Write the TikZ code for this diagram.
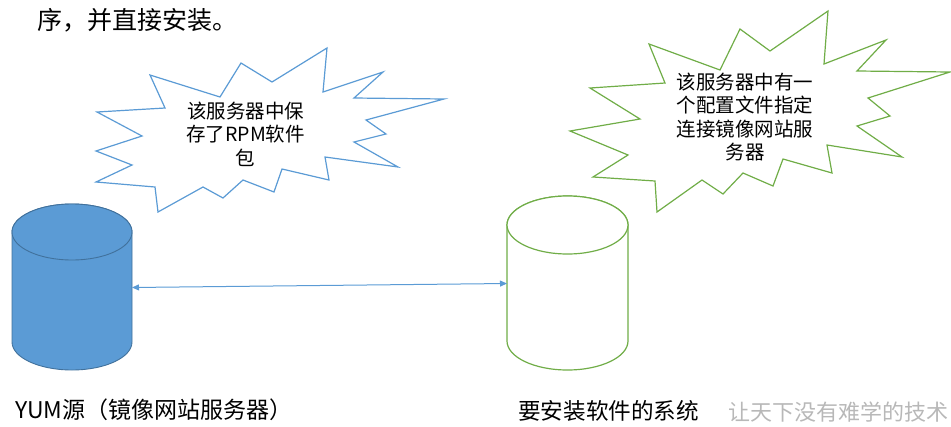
\documentclass[tikz,border=0pt]{standalone}
\usepackage{fontspec}
\newfontfamily\cjk{Noto Sans CJK SC}
\usetikzlibrary{arrows.meta}
\definecolor{cblue}{HTML}{5B9BD5}
\definecolor{cbluedark}{HTML}{41719C}
\definecolor{cgreen}{HTML}{70AD47}
\tikzset{
  burstblue/.style={draw=cblue, line width=1.2pt, fill=white, line join=miter},
  burstgreen/.style={draw=cgreen, line width=1.2pt, fill=white, line join=miter},
  cylblue/.style={draw=cbluedark, line width=0.9pt, fill=cblue},
  cylgreen/.style={draw=cgreen, line width=1.2pt, fill=white},
  bursttext/.style={align=center, inner sep=0pt, font=\cjk\fontsize{19.5}{23.5}\selectfont},
  labeltext/.style={anchor=west, inner sep=0pt, font=\cjk\fontsize{23}{27}\selectfont},
  link/.style={draw=cblue, line width=1pt, {Triangle[length=7pt,width=6pt]}-{Triangle[length=7pt,width=6pt]}}
}
\begin{document}
\begin{tikzpicture}[x=1pt,y=-1pt]
\useasboundingbox (0,0) rectangle (951,426);
% top text
\node[labeltext, font=\cjk\fontsize{25}{29}\selectfont] (title) at (37,20) {序，并直接安装。};
% blue burst
\path[burstblue] (150,75) -- (220,97) -- (241,63) -- (272,82) -- (327,48) -- (323,92) -- (383,72) -- (354,98) -- (444,99) -- (366,120) -- (386,134) -- (354,142) -- (398,167) -- (325,157) -- (329,180) -- (282,169) -- (274,192) -- (243,180) -- (223,198) -- (203,187) -- (158,212) -- (155,187) -- (96,182) -- (132,165) -- (96,151) -- (142,136) -- (97,112) -- (165,108) -- cycle;
\node[bursttext] (t1) at (245.7,134) {该服务器中保\\存了RPM软件\\包};
% green burst
\path[burstgreen] (649,44) -- (720,70) -- (740,29) -- (770,51) -- (828,11) -- (824,64) -- (886,40) -- (857,71) -- (950,72) -- (868,98) -- (890,116) -- (857,126) -- (902,157) -- (827,145) -- (832,173) -- (783,159) -- (773,186) -- (743,173) -- (723,194) -- (702,180) -- (657,212) -- (655,181) -- (593,177) -- (628,155) -- (570,131) -- (640,119) -- (590,88) -- (665,83) -- cycle;
\node[bursttext] (t2) at (745,117) {该服务器中有一\\个配置文件指定\\连接镜像网站服\\务器};
% blue cylinder
\path[cylblue] (12,232) -- (12,342) arc[start angle=180, end angle=0, x radius=60, y radius=28] -- (132,232) arc[start angle=0, end angle=-180, x radius=60, y radius=28] -- cycle;
\path[cylblue] (72,232) ellipse[x radius=60, y radius=28];
% green cylinder
\path[cylgreen] (507,225) -- (507,341) arc[start angle=180, end angle=0, x radius=60.5, y radius=29] -- (628,225) arc[start angle=0, end angle=-180, x radius=60.5, y radius=29] -- cycle;
\path[cylgreen] (567.5,225) ellipse[x radius=60.5, y radius=29];
% connector
\coordinate (yum) at (132,287.5);
\coordinate (sys) at (507,283.5);
\draw[link] (yum) -- (sys);
% labels
\node[labeltext] (l1) at (15,410) {YUM源（镜像网站服务器）};
\node[labeltext, font=\cjk\fontsize{22.6}{27}\selectfont] (l2) at (518,411) {要安装软件的系统};
\node[labeltext, text=black!28, font=\cjk\fontsize{22}{26}\selectfont] (wm) at (728,412) {让天下没有难学的技术};
\end{tikzpicture}
\end{document}
